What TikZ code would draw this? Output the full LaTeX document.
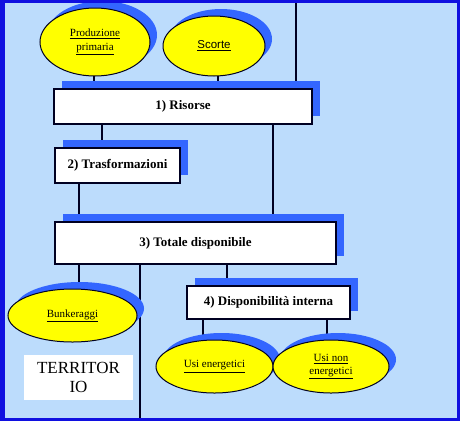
\documentclass[tikz,border=0pt]{standalone}
\usepackage{fontspec}
\setmainfont{Liberation Serif}
\setsansfont{Liberation Sans}
\usetikzlibrary{shapes.geometric}
\usetikzlibrary{shadows}
\definecolor{sfondo}{RGB}{188,220,252}
\definecolor{ombra}{RGB}{51,102,255}
\definecolor{giallo}{RGB}{255,255,0}
\definecolor{cornice}{RGB}{16,16,224}
\definecolor{linea}{RGB}{0,0,34}
\pgfdeclarelayer{sotto}
\pgfsetlayers{sotto,main}

\begin{document}
\begin{tikzpicture}[x=1pt, y=-1pt,
	casella/.style={draw=linea, line width=1.5pt, fill=white, inner sep=0pt, font=\bfseries\fontsize{13}{15}\selectfont, general shadow={fill=ombra, shadow xshift=8pt, shadow yshift=8pt}},
	bolla/.style={ellipse, draw=linea, line width=1pt, fill=giallo, inner sep=0pt, align=center, font=\fontsize{11}{13.5}\selectfont, general shadow={fill=ombra, shadow xshift=7pt, shadow yshift=7pt}},
	filo/.style={draw=linea, line width=1.5pt}]
		\useasboundingbox (0,0) rectangle (460,421);
		% fonti
		\node[bolla, minimum width=110pt, minimum height=68pt] (prod) at (95,42) {\underline{Produzione}\\\underline{primaria}};
		\node[bolla, minimum width=102pt, minimum height=60pt, font=\sffamily\fontsize{11.5}{13}\selectfont] (scorte) at (214,46) {\underline{Scorte}};
		% bilancio
		\node[casella, minimum width=258pt, minimum height=35pt] (risorse) at (183,106.5) {1) Risorse};
		\node[casella, minimum width=125pt, minimum height=35pt] (trasf) at (117.5,165.5) {2) Trasformazioni};
		\node[casella, minimum width=281pt, minimum height=42pt] (totale) at (195.5,243) {3) Totale disponibile};
		\node[casella, minimum width=163pt, minimum height=33pt] (dispint) at (268.5,302.5) {4) Disponibilità interna};
		% impieghi
		\node[bolla, minimum width=129pt, minimum height=53pt] (bunk) at (72.5,315.5) {\underline{Bunkeraggi}};
		\node[bolla, minimum width=117pt, minimum height=53pt] (usien) at (214.5,366.5) {\underline{Usi energetici}};
		\node[bolla, minimum width=116pt, minimum height=53pt] (usinon) at (331,366.5) {\underline{Usi non}\\\underline{energetici}};
		\node[fill=white, minimum width=109pt, minimum height=45pt, inner sep=0pt, align=center, font=\fontsize{17}{18.5}\selectfont] (terr) at (78.5,377.5) {TERRITOR\\IO};
		\coordinate (cima) at (296,0);
		\coordinate (fondo) at (140,421);
		\begin{pgfonlayer}{sotto}
			\fill[sfondo] (0,0) rectangle (460,421);
			\draw[filo] (cima) -- (cima |- risorse.center);
			\draw[filo] (94,0 |- prod.center) -- (94,0 |- risorse.center);
			\draw[filo] (218,0 |- scorte.center) -- (218,0 |- risorse.center);
			\draw[filo] (102,0 |- risorse.center) -- (102,0 |- trasf.center);
			\draw[filo] (273,0 |- risorse.center) -- (273,0 |- totale.center);
			\draw[filo] (79,0 |- trasf.center) -- (79,0 |- totale.center);
			\draw[filo] (79,0 |- totale.center) -- (79,0 |- bunk.center);
			\draw[filo] (totale.center -| fondo) -- (fondo);
			\draw[filo] (227,0 |- totale.center) -- (227,0 |- dispint.center);
			\draw[filo] (203,0 |- dispint.center) -- (203,0 |- usien.center);
			\draw[filo] (327,0 |- dispint.center) -- (327,0 |- usinon.center);
		\end{pgfonlayer}
		% cornice
		\draw[cornice, line width=3pt] (1.5,1.5) rectangle (458.5,419.5);
		\fill[cornice] (0,0) rectangle (5,421);
	\end{tikzpicture}
\end{document}
